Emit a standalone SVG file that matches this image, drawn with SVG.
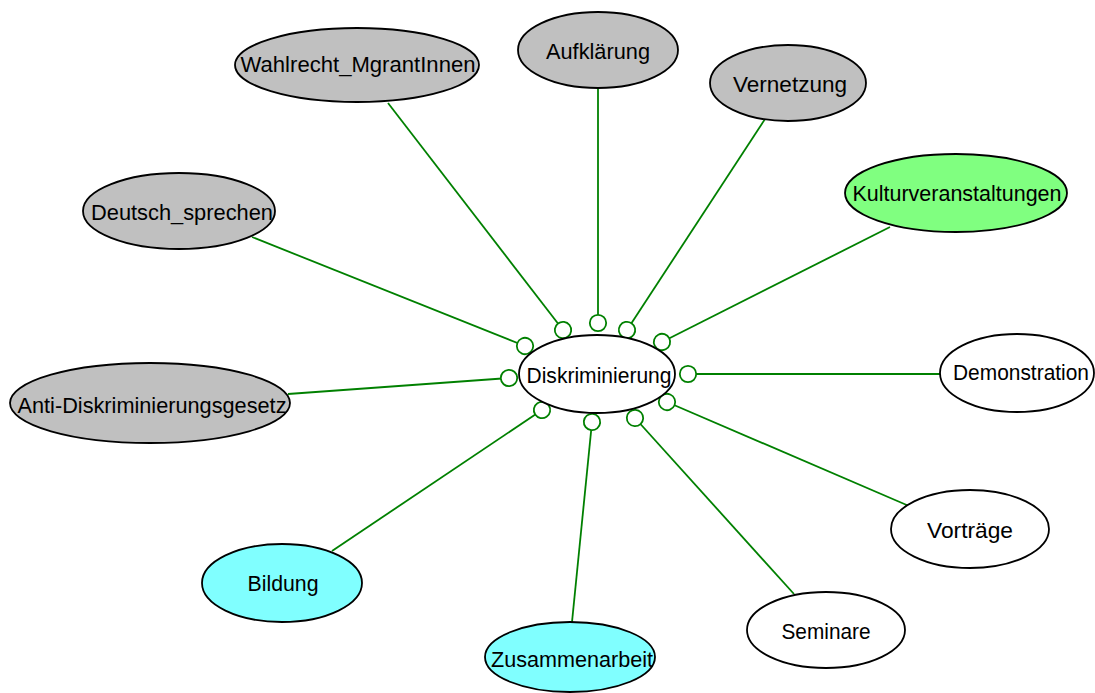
<svg xmlns="http://www.w3.org/2000/svg" width="1095" height="693" viewBox="0 0 1095 693">
  <style>
    .node ellipse { stroke: #000; stroke-width: 1.8; }
    .gray { fill: #c0c0c0; }
    .green { fill: #80ff80; }
    .cyan { fill: #80ffff; }
    .white { fill: #ffffff; }
    .node text { font-family: "Liberation Sans", Arial, sans-serif; font-size: 22px; fill: #000; text-anchor: middle; }
    .edge { stroke: #008000; stroke-width: 1.8; fill: none; marker-end: url(#ring); }
  </style>
  <defs>
    <marker id="ring" viewBox="-10 -10 20 20" refX="0" refY="0" markerWidth="20" markerHeight="20" markerUnits="userSpaceOnUse" orient="auto">
      <circle cx="0" cy="0" r="8.2" fill="#ffffff" stroke="#008000" stroke-width="1.8"/>
    </marker>
  </defs>
  <rect width="1095" height="693" fill="#ffffff"/>

  <!-- connectors: each one runs from an outer topic towards the central node -->
  <g id="connectors">
    <line class="edge" x1="388" y1="103" x2="563" y2="330"/>
    <line class="edge" x1="598" y1="88" x2="598" y2="323"/>
    <line class="edge" x1="765" y1="119" x2="627" y2="330"/>
    <line class="edge" x1="890" y1="227" x2="662" y2="342"/>
    <line class="edge" x1="252" y1="237" x2="525" y2="346"/>
    <line class="edge" x1="288" y1="394" x2="509" y2="378"/>
    <line class="edge" x1="940" y1="374" x2="688" y2="374"/>
    <line class="edge" x1="909" y1="506" x2="667" y2="402"/>
    <line class="edge" x1="794" y1="594" x2="635" y2="418"/>
    <line class="edge" x1="572" y1="622" x2="592" y2="422"/>
    <line class="edge" x1="332" y1="551" x2="542" y2="410"/>
  </g>

  <g id="node-diskriminierung" class="node">
    <ellipse class="white" cx="597" cy="374" rx="78" ry="39"/>
    <text x="599" y="383" textLength="145" lengthAdjust="spacingAndGlyphs">Diskriminierung</text>
  </g>
  <g id="node-wahlrecht" class="node">
    <ellipse class="gray" cx="357" cy="65" rx="122" ry="37"/>
    <text x="358" y="72" textLength="235" lengthAdjust="spacingAndGlyphs">Wahlrecht_MgrantInnen</text>
  </g>
  <g id="node-aufklaerung" class="node">
    <ellipse class="gray" cx="598" cy="50" rx="80" ry="38"/>
    <text x="598" y="59" textLength="104" lengthAdjust="spacingAndGlyphs">Aufklärung</text>
  </g>
  <g id="node-vernetzung" class="node">
    <ellipse class="gray" cx="788" cy="83" rx="78" ry="38"/>
    <text x="790" y="92" textLength="114" lengthAdjust="spacingAndGlyphs">Vernetzung</text>
  </g>
  <g id="node-kultur" class="node">
    <ellipse class="green" cx="956" cy="193" rx="111" ry="39"/>
    <text x="957" y="201" textLength="209" lengthAdjust="spacingAndGlyphs">Kulturveranstaltungen</text>
  </g>
  <g id="node-deutsch" class="node">
    <ellipse class="gray" cx="179" cy="211" rx="96" ry="38"/>
    <text x="182" y="220" textLength="182" lengthAdjust="spacingAndGlyphs">Deutsch_sprechen</text>
  </g>
  <g id="node-anti" class="node">
    <ellipse class="gray" cx="150" cy="403" rx="140" ry="40"/>
    <text x="152" y="413" textLength="269" lengthAdjust="spacingAndGlyphs">Anti-Diskriminierungsgesetz</text>
  </g>
  <g id="node-demonstration" class="node">
    <ellipse class="white" cx="1017" cy="373" rx="77" ry="39"/>
    <text x="1021" y="380" textLength="136" lengthAdjust="spacingAndGlyphs">Demonstration</text>
  </g>
  <g id="node-vortraege" class="node">
    <ellipse class="white" cx="970" cy="529" rx="79" ry="39"/>
    <text x="970" y="538" textLength="86" lengthAdjust="spacingAndGlyphs">Vorträge</text>
  </g>
  <g id="node-seminare" class="node">
    <ellipse class="white" cx="826" cy="630" rx="79" ry="38"/>
    <text x="826" y="639" textLength="89" lengthAdjust="spacingAndGlyphs">Seminare</text>
  </g>
  <g id="node-zusammenarbeit" class="node">
    <ellipse class="cyan" cx="570" cy="657" rx="85" ry="35"/>
    <text x="572" y="667" textLength="162" lengthAdjust="spacingAndGlyphs">Zusammenarbeit</text>
  </g>
  <g id="node-bildung" class="node">
    <ellipse class="cyan" cx="282" cy="583" rx="80" ry="39"/>
    <text x="283" y="591" textLength="71" lengthAdjust="spacingAndGlyphs">Bildung</text>
  </g>
</svg>
